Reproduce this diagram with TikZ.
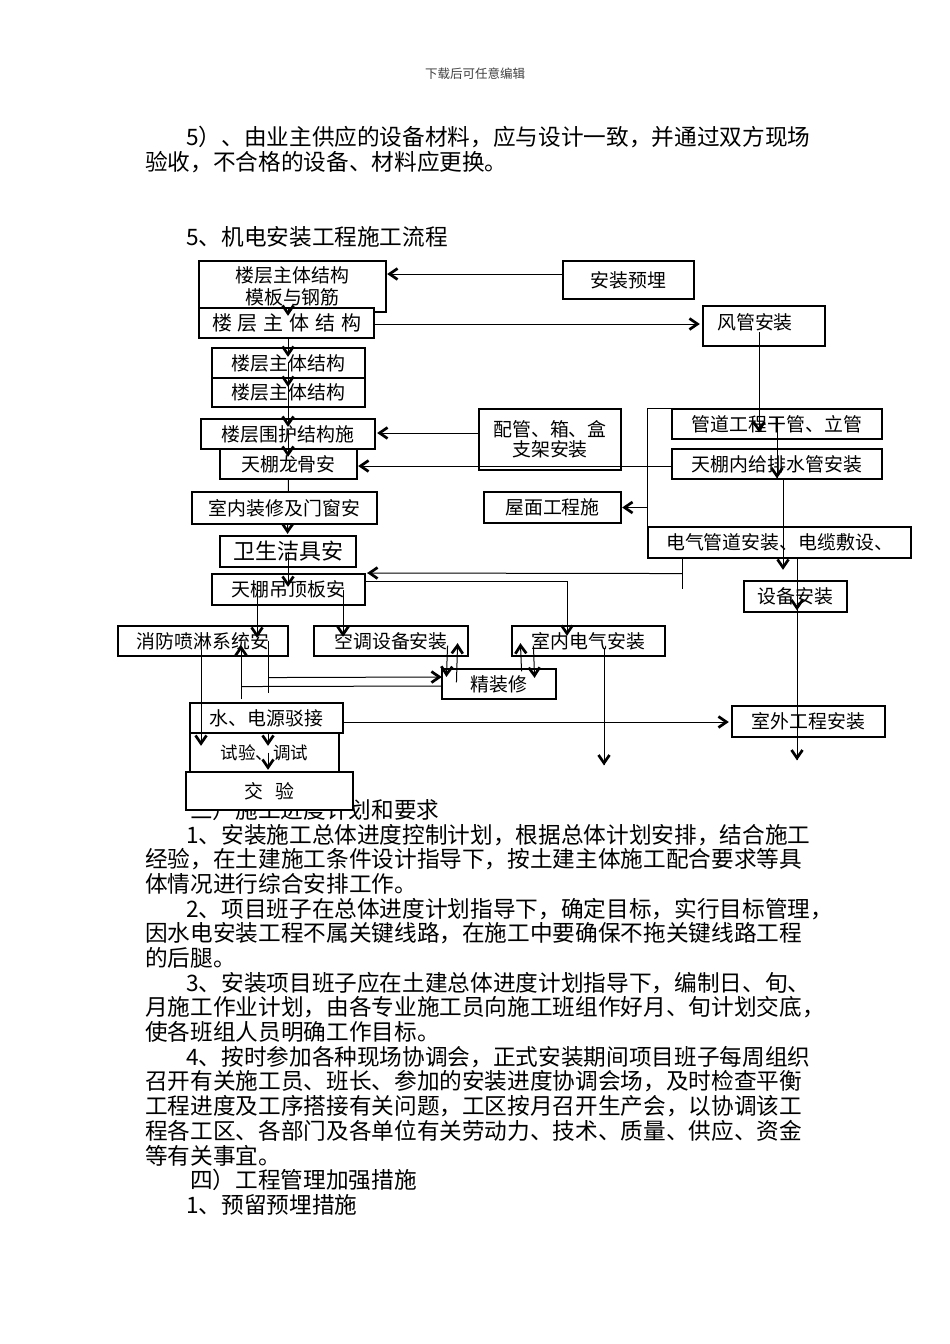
\documentclass[tikz,border=0pt]{standalone}
\usepackage{fontspec}
\setmainfont{Noto Sans CJK SC}
\usetikzlibrary{arrows.meta,calc,decorations.markings}
\newcommand\myfs[1]{\fontsize{#1}{#1}\selectfont}
\newcommand\mygap{\hspace{5.8pt}}
\tikzset{
  bx/.style={draw=black, fill=white, line width=1.1pt, inner sep=0pt, align=center, font=\myfs{18.9}},
  ln/.style={line width=1pt, draw=black},
  ar/.style={ln, postaction={decorate}, decoration={markings,
     mark=at position 1 with {\draw[line width=2.7pt, line join=miter, line cap=butt] (-10pt,5.5pt) -- (-2pt,0pt) -- (-10pt,-5.5pt);}}},
  tx/.style={anchor=west, inner sep=0pt, font=\myfs{22.65}},
}
\begin{document}
\begin{tikzpicture}[x=1pt,y=-1pt]
\fill[white] (0,0) rectangle (950,1344);
\useasboundingbox (0,0) rectangle (950,1344);

% ---------- page text ----------
\node[font=\myfs{12.5}, text=black!75, inner sep=0pt] (hdr) at (475,74) {下载后可任意编辑};
\node[tx] (p1) at (186,137) {5）、由业主供应的设备材料，应与设计一致，并通过双方现场};
\node[tx] (p2) at (145,162) {验收，不合格的设备、材料应更换。};
\node[tx] (p3) at (186,237) {5、机电安装工程施工流程};
\node[tx] (q0) at (190,810) {三）施工进度计划和要求};
\node[tx] (q1) at (186,835) {1、安装施工总体进度控制计划，根据总体计划安排，结合施工};
\node[tx] (q2) at (145,859.6) {经验，在土建施工条件设计指导下，按土建主体施工配合要求等具};
\node[tx] (q3) at (145,884.3) {体情况进行综合安排工作。};
\node[tx] (q4) at (186,908.9) {2、项目班子在总体进度计划指导下，确定目标，实行目标管理，};
\node[tx] (q5) at (145,933.6) {因水电安装工程不属关键线路，在施工中要确保不拖关键线路工程};
\node[tx] (q6) at (145,958.2) {的后腿。};
\node[tx] (q7) at (186,982.9) {3、安装项目班子应在土建总体进度计划指导下，编制日、旬、};
\node[tx] (q8) at (145,1007.5) {月施工作业计划，由各专业施工员向施工班组作好月、旬计划交底，};
\node[tx] (q9) at (145,1032.2) {使各班组人员明确工作目标。};
\node[tx] (q10) at (186,1056.8) {4、按时参加各种现场协调会，正式安装期间项目班子每周组织};
\node[tx] (q11) at (145,1081.5) {召开有关施工员、班长、参加的安装进度协调会场，及时检查平衡};
\node[tx] (q12) at (145,1106.1) {工程进度及工序搭接有关问题，工区按月召开生产会，以协调该工};
\node[tx] (q13) at (145,1130.8) {程各工区、各部门及各单位有关劳动力、技术、质量、供应、资金};
\node[tx] (q14) at (145,1155.4) {等有关事宜。};
\node[tx] (q15) at (190,1180.1) {四）工程管理加强措施};
\node[tx] (q16) at (186,1204.7) {1、预留预埋措施};

% ---------- boxes ----------
\node[bx, minimum width=187pt, minimum height=51pt, font=\fontsize{18.9}{22}\selectfont] (A) at (292.5,286.5) {楼层主体结构\\模板与钢筋};
\node[bx, minimum width=175pt, minimum height=30pt, font=\myfs{20}] (B) at (286.5,323) {楼\mygap 层\mygap 主\mygap 体\mygap 结\mygap 构};
\node[bx, minimum width=153pt, minimum height=30pt] (C) at (288.5,363) {楼层主体结构};
\node[bx, minimum width=153pt, minimum height=29pt] (D) at (288.5,392.5) {楼层主体结构};
\node[bx, minimum width=174pt, minimum height=30pt] (E) at (288,434) {楼层围护结构施};
\node[bx, minimum width=137pt, minimum height=30pt] (F) at (288.5,464) {天棚龙骨安};
\node[bx, minimum width=136pt, minimum height=31pt, font=\myfs{22}] (H) at (288,551.5) {卫生洁具安};
\draw[ar] (F.south) -- ($(H.north)+(-0.5,-2)$);
\node[bx, minimum width=185pt, minimum height=32pt] (G) at (284.5,508) {室内装修及门窗安};
\node[bx, minimum width=153pt, minimum height=31pt] (I) at (288.5,589.5) {天棚吊顶板安};
\node[bx, minimum width=170pt, minimum height=30pt] (J) at (203,641) {消防喷淋系统安};
\node[bx, minimum width=154pt, minimum height=30pt] (K) at (391,641) {空调设备安装};
\node[bx, minimum width=153pt, minimum height=30pt] (L) at (588.5,641) {室内电气安装};
\node[bx, minimum width=114pt, minimum height=30pt] (M) at (499,684) {精装修};
\node[bx, minimum width=153pt, minimum height=30pt] (N) at (266.5,718) {水、电源驳接};
\node[bx, minimum width=149pt, minimum height=39pt, font=\myfs{17.5}] (O) at (264.5,752.5) {试验、调试};
\node[bx, minimum width=167pt, minimum height=38pt] (P) at (269.5,791) {交\hspace{12pt}验};
\node[bx, minimum width=153pt, minimum height=31pt] (Q) at (808.5,721.5) {室外工程安装};
\node[bx, minimum width=131pt, minimum height=38pt] (R) at (628.5,280) {安装预埋};
\node[bx, minimum width=122pt, minimum height=40pt] (S) at (764,326) {};
\node[inner sep=0pt, font=\myfs{18.9}] (Stext) at ($(S.center)+(-9,-4)$) {风管安装};
\node[bx, minimum width=142pt, minimum height=61pt, font=\fontsize{18.9}{20}\selectfont] (T) at (550,439.5) {配管、箱、盒\\支架安装};
\node[bx, minimum width=210pt, minimum height=30pt] (U) at (777,424) {管道工程干管、立管};
\node[bx, minimum width=210pt, minimum height=30pt] (V) at (777,464) {天棚内给排水管安装};
\node[bx, minimum width=137pt, minimum height=31pt] (W) at (552.5,507.5) {屋面工程施};
\node[bx, minimum width=263pt, minimum height=31pt] (X) at (779.5,542.5) {电气管道安装、电缆敷设、};
\node[bx, minimum width=103pt, minimum height=31pt] (Y) at (795.5,596.5) {设备安装};

\coordinate (endL) at (604,765);
\coordinate (endR) at (797,760);

% ---------- connectors ----------
% main column
\draw[ar] ($(A.south)+(-4.5,-4)$) -- ($(B.north)+(1.5,8)$);
\draw[ar] ($(B.south)+(1.5,0)$) -- ($(C.north)+(-0.5,9)$);
\draw[ar] ($(C.center)+(-0.5,-1)$) -- ($(D.north)+(-0.5,9)$);
\draw[ar] ($(D.north)+(-0.5,9)$) -- ($(E.north)+(0,8)$);
\draw[ar] ($(E.center)+(0,-4)$) -- ($(F.north)+(-0.5,8)$);
\draw[ar] ($(H.center)+(0,0.5)$) -- ($(I.north)+(-0.5,13)$);
% side inputs
\draw[ar] ($(R.west)+(0,-6)$) -- ($(A.east |- R.west)+(1,-6)$);
\draw[ar] ($(B.east)+(0,1)$) -- ($(S.west |- B.east)+(-3,1)$);
\draw[ar] ($(T.west)+(0,-6.5)$) -- ($(E.east |- T.west)+(2,-6.5)$);
\draw[ar] ($(V.west)+(0,2)$) -- ($(F.east |- V.west)+(1,2)$);
% right column
\draw[ar] ($(S.center)+(-5,6)$) -- ($(U.center)+(-18,8)$);
\draw[ar] ($(U.center)+(0,-6)$) -- ($(V.center)+(0,14)$);
\draw[ar] ($(V.south)+(6,0)$) -- ($(Y.north)+(-12.5,-11)$);
\draw[ln] (U.north west) -- ++(-24,0) -- (X.north west);
\draw[ar] (X.north west |- W.east) -- ($(W.east)+(1,0)$);
\draw[ar] ($(X.south)+(17.5,0)$) -- ($(Y.center)+(1.5,13.5)$);
\draw[ar] ($(Y.center)+(1.5,13.5)$) -- (endR);
\draw[ln] ($(X.south west)+(35,0)$) -- ++(0,30);
\draw[ar] ($(X.south west)+(35,15)$) -- ($(I.east)+(2,-16.5)$);
% from ceiling board
\draw[ar] ($(I.center)+(-31.5,0.5)$) -- ($(J.north)+(54,12)$);
\draw[ar] ($(I.center)+(54.5,0.5)$) -- ($(K.north)+(-48,11)$);
\draw[ar] ($(I.east)+(0,-8.5)$) -| ($(L.north)+(-21.5,10)$);
% fire sprinkler / fine decoration loops
\draw[ln] ($(J.south east)+(-20,-16)$) -- ++(0,52);
\draw[ar] ($(J.south east)+(-20,21)$) -- ($(M.west)+(0,-7)$);
\draw[ln] ($(M.west)+(0,2)$) -- ($(J.south)+(38,30)$);
\draw[ar] ($(N.north)+(-25.5,-3)$) -- ($(J.south)+(38,-11)$);
\draw[ar] ($(J.center)+(-2,2)$) -- ($(O.north)+(-63.5,13)$);
\draw[ar] ($(K.south east)+(-21,-11)$) -- ($(M.north west)+(5,8)$);
\draw[ar] ($(M.north west)+(15,14)$) -- ($(K.south east)+(-11,-13)$);
\draw[ar] ($(M.north east)+(-35,3)$) -- ($(L.south west)+(9,-13)$);
\draw[ar] ($(L.south west)+(22,-11)$) -- ($(M.north east)+(-22,9)$);
\draw[ar] ($(L.south)+(15.5,-8)$) -- (endL);
% bottom chain
\draw[ar] ($(N.south)+(1.5,0)$) -- ($(O.north)+(3.5,13)$);
\draw[ar] ($(O.center)+(3.5,0)$) -- ($(P.north)+(-1.5,-2)$);
\draw[ar] ($(N.east)+(0,4)$) -- ($(Q.west)+(-3,0.5)$);
\end{tikzpicture}
\end{document}
